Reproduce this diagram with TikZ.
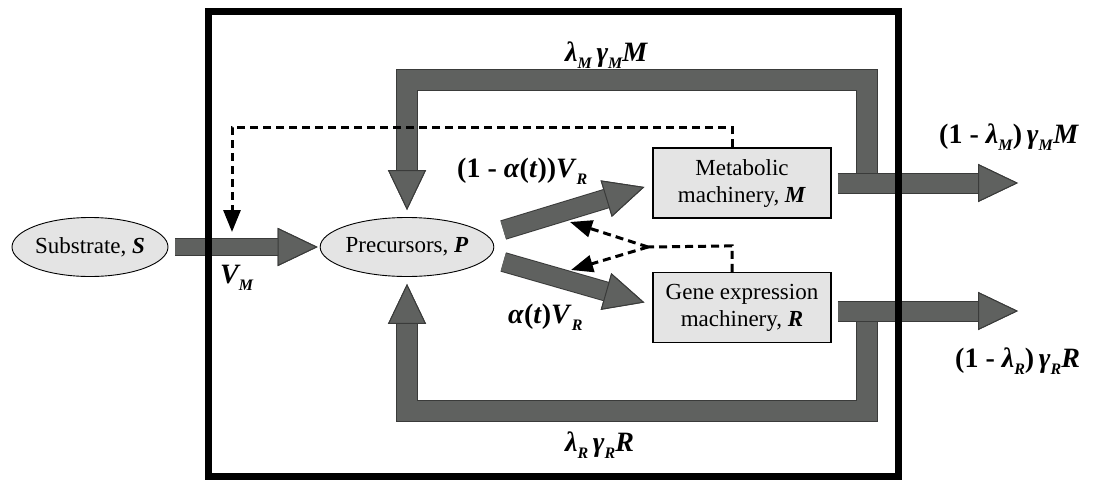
\documentclass[tikz,border=0pt]{standalone}
\usepackage{fontspec}
\setmainfont{Liberation Serif}
\usetikzlibrary{arrows.meta,shapes.geometric}
\definecolor{nodegray}{HTML}{E4E4E4}
\definecolor{pipegray}{HTML}{5F615F}
\definecolor{pipedark}{HTML}{3A3B3A}
\newcommand{\sbs}[1]{\raisebox{-0.6ex}{\fontsize{16}{16}\selectfont #1}}
\newcommand{\bix}[1]{\textbf{\textit{#1}}}
\begin{document}
\begin{tikzpicture}[x=1pt,y=-1pt,
  every node/.style={font=\fontsize{23}{27}\selectfont},
  ell/.style={ellipse, draw, line width=0.9pt, fill=nodegray, minimum width=156pt, minimum height=59pt, inner sep=0pt},
  mbox/.style={rectangle, draw, line width=1.2pt, fill=nodegray, minimum width=178pt, minimum height=70pt, align=center, inner sep=0pt},
  fat/.style={line width=#1, draw=pipegray, line join=miter,
    -{Triangle[length=40pt,width=38pt,line width=1pt,fill=pipegray,color=pipedark]},
    preaction={draw=pipedark, line width=#1+2pt}},
  fat/.default=18pt,
  dasharrow/.style={draw=black, line width=3pt, dash pattern=on 8pt off 5pt,
    -{Triangle[length=22pt,width=17pt]}},
  dashline/.style={draw=black, line width=3pt, dash pattern=on 8pt off 5pt},
  lbl/.style={font=\fontsize{28}{31}\selectfont\bfseries, inner sep=0pt, anchor=base west}
]
\useasboundingbox (0,0) rectangle (1105,482);

% nodes
\node[ell] (S) at (90,247) {Substrate, \bix{S}};
\node[ell, minimum width=160pt] (P) at (407,247) {Precursors, \bix{P}};
\node[mbox] (M) at (742,183) {Metabolic\\machinery, \bix{M}};
\node[mbox] (R) at (742,307.5) {Gene expression\\machinery, \bix{R}};

% free ends
\coordinate (jm) at (867,183);
\coordinate (jr) at (867,311);
\coordinate (mend) at (1018,183);
\coordinate (rend) at (1018,311);
\coordinate (vtip) at (232,232);
\coordinate (split) at (648,247);
\coordinate (utip) at (570,222);
\coordinate (ltip) at (571,270);

% feedback loops
\draw[fat=20pt] (jm) -- (867,80) -| ([yshift=7pt]P.north);
\draw[fat=20pt] (jr) -- (867,411) -| ([yshift=-7pt]P.south);

% fluxes
\draw[fat=16pt] ([xshift=7pt]S.east) -- ([xshift=-2pt]P.west);
\draw[fat] ([xshift=9pt,yshift=17pt]P.east) -- ([xshift=-8pt,yshift=-4pt]M.west);
\draw[fat] ([xshift=9pt,yshift=-15pt]P.east) -- ([xshift=-8pt,yshift=5pt]R.west);
\draw[fat=19pt] ([xshift=6pt]M.east) -- (mend);
\draw[fat=19pt] ([xshift=6pt,yshift=-3.5pt]R.east) -- (rend);

% regulation (dashed)
\draw[dasharrow] ([xshift=-10pt]M.north) -- ++(0,-20) -| (vtip);
\draw[dashline] ([xshift=-10pt]R.north) -- ++(0,-26) -- (split);
\draw[dasharrow] (split) -- (utip);
\draw[dasharrow] (split) -- (ltip);

% cell boundary
\draw[line width=7pt] (208,11) rectangle (898,476);

% labels
\node[lbl] (lVM) at (220,283) {\itshape V\sbs{M}};
\node[lbl] (lup) at (457,177) {(1 - \textit{α}(\textit{t}))\textit{V}\sbs{\textit{R}}};
\node[lbl] (llo) at (508,323) {\textit{α}(\textit{t})\textit{V}\sbs{\textit{R}}};
\node[lbl] (ltop) at (565,61) {\itshape λ\sbs{M}\,γ\sbs{M}M};
\node[lbl] (lbot) at (565,451) {\itshape λ\sbs{R}\,γ\sbs{R}R};
\node[lbl] (lmo) at (939,143) {(1 - \textit{λ}\sbs{\textit{M}})\,\textit{γ}\sbs{\textit{M}}\textit{M}};
\node[lbl] (lro) at (955,367) {(1 - \textit{λ}\sbs{\textit{R}})\,\textit{γ}\sbs{\textit{R}}\textit{R}};
\end{tikzpicture}
\end{document}
